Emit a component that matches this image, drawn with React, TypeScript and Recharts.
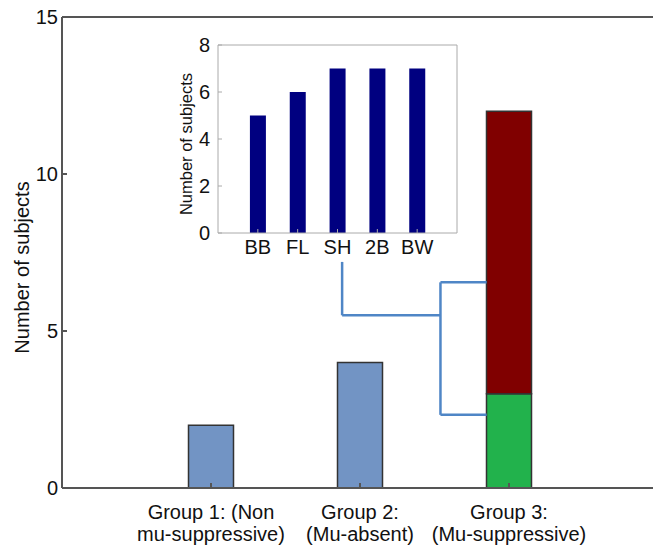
import React from 'react'
import { Bar, BarChart, Cell, ReferenceLine, XAxis, YAxis } from 'recharts'

// main chart
const groupPositions = [1, 2, 3]
const groupLabels = [
  ['Group 1: (Non', 'mu-suppressive)'],
  ['Group 2:', '(Mu-absent)'],
  ['Group 3:', '(Mu-suppressive)'],
]
const lowerCounts = [2, 4, 3]
const upperCounts = [0, 0, 9]
const mainTicks = [0, 5, 10, 15]

// inset chart
const bandPositions = [1, 2, 3, 4, 5]
const bandLabels = ['BB', 'FL', 'SH', '2B', 'BW']
const bandCounts = [5, 6, 7, 7, 7]
const insetTicks = [0, 2, 4, 6, 8]

// bracket from SH label to group 3 bar, in data units of the main chart
const bracket = [
  [{ x: 1.88, y: 7.2 }, { x: 1.88, y: 5.5 }],
  [{ x: 1.88, y: 5.5 }, { x: 2.54, y: 5.5 }],
  [{ x: 2.54, y: 6.55 }, { x: 2.54, y: 2.33 }],
  [{ x: 2.54, y: 6.55 }, { x: 2.85, y: 6.55 }],
  [{ x: 2.54, y: 2.33 }, { x: 2.85, y: 2.33 }],
]

const mainData = groupPositions.map((pos, i) => ({
  pos,
  lower: lowerCounts[i],
  upper: upperCounts[i],
}))

const insetData = bandPositions.map((pos, i) => ({ pos, count: bandCounts[i] }))

const FONT = '"Liberation Sans", Arial, sans-serif'
const lowerFills = ['#7294C4', '#7294C4', '#22B24C']

const GroupTick = (props: any) => {
  const { x, y, payload } = props
  const lines = groupLabels[payload.value - 1] || []
  return (
    <g>
      {lines.map((line, i) => (
        <text key={i} x={x} y={y + 6 + i * 22} textAnchor="middle" fontSize={20} fontFamily={FONT} fill="#111">
          {line}
        </text>
      ))}
    </g>
  )
}

const AxisTitle = (props: any) => {
  const { viewBox, text, left, shift, size } = props
  const cy = viewBox.y + viewBox.height / 2 + shift
  return (
    <text
      x={left}
      y={cy}
      transform={`rotate(-90 ${left} ${cy})`}
      textAnchor="middle"
      dominantBaseline="central"
      fontSize={size}
      fontFamily={FONT}
      fill="#111"
    >
      {text}
    </text>
  )
}

export default function App() {
  return (
    <div style={{ position: 'fixed', left: 0, top: 0, width: 653, height: 551, overflow: 'hidden', background: '#fff' }}>
      <BarChart width={670} height={551} data={mainData} margin={{ top: 17, right: 12, bottom: 0, left: 0 }}>
        <XAxis
          type="number"
          dataKey="pos"
          domain={[0, 4]}
          ticks={groupPositions}
          height={63}
          tick={<GroupTick />}
          tickSize={-5}
          tickMargin={30}
          stroke="#555"
          strokeWidth={2}
        />
        <YAxis
          domain={[0, 15]}
          ticks={mainTicks}
          width={62}
          tickSize={-5}
          tickMargin={9}
          stroke="#555"
          strokeWidth={2}
          tick={{ fontSize: 20, fill: '#111', fontFamily: FONT }}
          label={<AxisTitle text="Number of subjects" left={22} shift={15} size={20} />}
        />
        <ReferenceLine y={15} stroke="#555" strokeWidth={2} />
        {bracket.map((seg, i) => (
          <ReferenceLine key={i} segment={seg} stroke="#4F86C6" strokeWidth={2.5} />
        ))}
        <Bar dataKey="lower" stackId="a" barSize={45} stroke="#333" strokeWidth={1.5} isAnimationActive={false}>
          {mainData.map((_, i) => (
            <Cell key={i} fill={lowerFills[i]} />
          ))}
        </Bar>
        <Bar dataKey="upper" stackId="a" barSize={45} fill="#800000" stroke="#333" strokeWidth={1.5} isAnimationActive={false} />
      </BarChart>

      <div style={{ position: 'absolute', left: 150, top: 30 }}>
        <BarChart width={317} height={233} data={insetData} margin={{ top: 15, right: 10, bottom: 0, left: 0 }}>
          <XAxis
            type="number"
            dataKey="pos"
            domain={[0, 6]}
            ticks={bandPositions}
            height={30}
            tickSize={-4}
            tickMargin={11}
            stroke="#aaa"
            tickFormatter={(v: number) => bandLabels[v - 1]}
            tick={{ fontSize: 20, fill: '#111', fontFamily: FONT }}
          />
          <YAxis
            domain={[0, 8]}
            ticks={insetTicks}
            width={68}
            tickSize={-4}
            tickMargin={12}
            stroke="#aaa"
            tick={{ fontSize: 20, fill: '#111', fontFamily: FONT }}
            label={<AxisTitle text="Number of subjects" left={36} shift={5} size={16.5} />}
          />
          <ReferenceLine y={8} stroke="#aaa" />
          <ReferenceLine x={6} stroke="#aaa" />
          <Bar dataKey="count" barSize={16} fill="#000080" isAnimationActive={false} />
        </BarChart>
      </div>
    </div>
  )
}
